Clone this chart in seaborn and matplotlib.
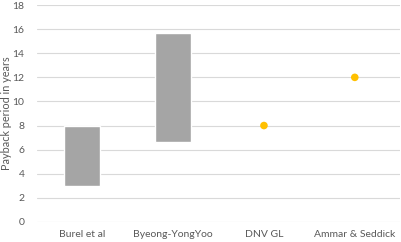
import matplotlib
matplotlib.use("Agg")
import matplotlib.pyplot as plt
import seaborn as sns
import numpy as np

# data
categories = ["Burel et al", "Byeong-YongYoo", "DNV GL", "Ammar & Seddick"]
range_cats = ["Burel et al", "Byeong-YongYoo"]
range_low = [3.0, 6.65]
range_high = [8.0, 15.65]
point_cats = ["DNV GL", "Ammar & Seddick"]
point_vals = [8.0, 12.0]

sns.set_theme(style="white")
plt.rcParams["font.family"] = ["Lato", "DejaVu Sans"]
text_col = "#595959"

fig = plt.figure(figsize=(4.01, 2.42), dpi=100)
ax = fig.add_axes([0.092, 0.083, 0.906, 0.896])

pos = {c: i for i, c in enumerate(categories)}

# floating bars for the ranges
xs = [pos[c] for c in range_cats]
heights = np.array(range_high) - np.array(range_low)
ax.bar(xs, heights, bottom=range_low, width=0.4, color="#A5A5A5", zorder=3)

# single estimates as dots
sns.scatterplot(x=[pos[c] for c in point_cats], y=point_vals, ax=ax,
                color="#FFC000", s=30, edgecolor="none", zorder=4)

ax.set_xlim(-0.5, 3.5)
ax.set_ylim(0, 18)
ax.set_yticks(range(0, 19, 2))
ax.set_xticks(range(len(categories)))
ax.set_xticklabels(categories)
ax.yaxis.grid(True, color="#D9D9D9", linewidth=0.8, zorder=0)
ax.set_axisbelow(True)
for s in ax.spines.values():
    s.set_visible(False)
ax.tick_params(axis="both", length=0, labelsize=7.5, labelcolor=text_col)
ax.tick_params(axis="x", pad=6)
ax.tick_params(axis="y", pad=9)
ax.set_ylabel("Payback period in years", fontsize=7.8, color=text_col)
ax.yaxis.set_label_coords(-0.068, 0.5)

fig.savefig("out.png", dpi=100)
